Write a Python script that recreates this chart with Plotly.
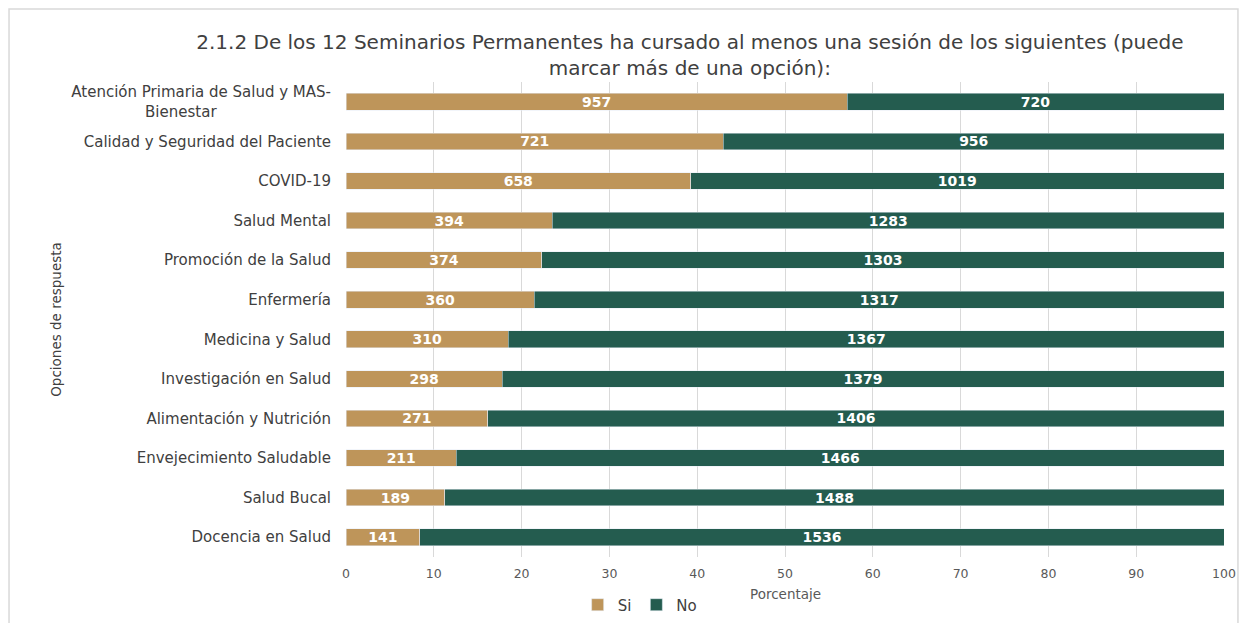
import plotly.graph_objects as go

categories = [
    "Atención Primaria de Salud y MAS-<br>Bienestar" + "&nbsp;" * 24,
    "Calidad y Seguridad del Paciente",
    "COVID-19",
    "Salud Mental",
    "Promoción de la Salud",
    "Enfermería",
    "Medicina y Salud",
    "Investigación en Salud",
    "Alimentación y Nutrición",
    "Envejecimiento Saludable",
    "Salud Bucal",
    "Docencia en Salud",
]
si_counts = [957, 721, 658, 394, 374, 360, 310, 298, 271, 211, 189, 141]
no_counts = [720, 956, 1019, 1283, 1303, 1317, 1367, 1379, 1406, 1466, 1488, 1536]
x_ticks = [0, 10, 20, 30, 40, 50, 60, 70, 80, 90, 100]
x_title = "Porcentaje"

totals = [s + n for s, n in zip(si_counts, no_counts)]
si_pct = [s / t * 100 for s, t in zip(si_counts, totals)]
no_pct = [n / t * 100 for n, t in zip(no_counts, totals)]

FONT = "DejaVu Sans"
fig = go.Figure()
for name, pct, counts, color in [("Si", si_pct, si_counts, "#BE955A"),
                                  ("No", no_pct, no_counts, "#245C4F")]:
    fig.add_trace(go.Bar(
        y=categories, x=pct, name=name, orientation="h",
        marker=dict(color=color),
        text=[str(v) for v in counts], textposition="inside",
        insidetextanchor="middle", constraintext="none",
        textfont=dict(color="white", size=14, family=FONT, weight="bold"),
        width=0.42,
    ))

fig.update_layout(
    barmode="stack",
    width=1243, height=623,
    margin=dict(l=346, r=19, t=82, b=66, autoexpand=False),
    paper_bgcolor="white", plot_bgcolor="white",
    font=dict(family=FONT, color="#404040"),
    title=dict(
        text="2.1.2 De los 12 Seminarios Permanentes ha cursado al menos una sesión de los siguientes (puede<br>marcar más de una opción):",
        x=0.555, xanchor="center", y=0.922, yanchor="top",
        font=dict(size=20, color="#404040", family=FONT),
    ),
    xaxis=dict(
        range=[0, 100], tickvals=x_ticks, showgrid=True, gridcolor="#D9D9D9",
        zeroline=False, showline=False, automargin=True,
        ticks="outside", ticklen=5, tickcolor="rgba(0,0,0,0)",
        tickfont=dict(size=12.5, color="#595959"),
    ),
    yaxis=dict(
        autorange="reversed", showgrid=False, ticks="", ticklabelstandoff=14,
        automargin=True,
        tickfont=dict(size=15, color="#404040"),
        title=dict(text="Opciones de respuesta", font=dict(size=13.5, color="#404040"), standoff=6),
    ),
    annotations=[dict(
        text=x_title, xref="paper", yref="paper", x=0.5, y=-0.078,
        xanchor="center", yanchor="middle", showarrow=False,
        font=dict(size=13.5, color="#595959", family=FONT),
    )],
    legend=dict(
        orientation="h", xref="container", yref="container",
        x=0.515, xanchor="center", y=0.029, yanchor="middle",
        font=dict(size=15, color="#404040"), traceorder="normal",
        itemwidth=30,
    ),
    showlegend=True,
    shapes=[dict(
        type="rect", xref="paper", yref="paper",
        x0=-0.3838, x1=1.0159, y0=-0.2, y1=1.1537,
        line=dict(color="#D9D9D9", width=1.5), fillcolor="rgba(0,0,0,0)",
        layer="below",
    )],
)

fig.write_html("out.html", config={"displayModeBar": False},
               post_script="document.body.style.margin='0';document.body.style.overflow='hidden';")
